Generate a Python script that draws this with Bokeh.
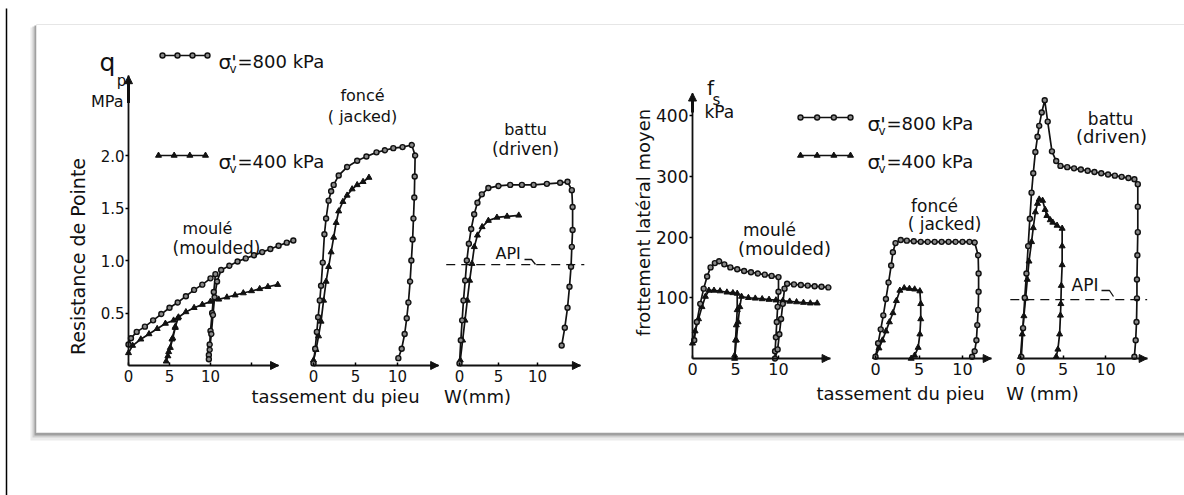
import numpy as np
from bokeh.plotting import figure
from bokeh.models import Range1d, LinearAxis, FixedTicker, Arrow, NormalHead
from bokeh.embed import file_html
from bokeh.resources import INLINE
from bokeh.core.properties import value

# ---------------- DATA ----------------
# Left figure: point resistance q_p (MPa) vs pile settlement w (mm)
qp_moulded_800_w = [0, 0.3, 1, 2, 3, 4, 5, 6, 7, 8, 9, 10, 10.6, 10.4, 10.2, 10.0, 9.9, 9.8, 9.8, 9.9,
                    10.1, 10.3, 10.5, 10.8, 11.3, 12.3, 13.3, 14.3, 15.3, 16.3, 17.3, 18.3, 19.3, 20.1]
qp_moulded_800_q = [0.20, 0.26, 0.32, 0.37, 0.43, 0.49, 0.55, 0.60, 0.66, 0.72, 0.77, 0.83, 0.87, 0.70,
                    0.50, 0.33, 0.20, 0.10, 0.06, 0.15, 0.30, 0.48, 0.65, 0.80, 0.91, 0.95, 0.99, 1.02,
                    1.05, 1.08, 1.11, 1.14, 1.17, 1.19]
qp_moulded_400_w = [0, 0.5, 1.5, 2.5, 3.5, 4.5, 5.5, 6.0, 5.7, 5.4, 5.1, 4.8, 4.6, 4.9, 5.3, 5.7, 6.1,
                    7, 8, 9, 10, 11, 12, 13, 14, 15, 16, 17, 18.2]
qp_moulded_400_q = [0.12, 0.19, 0.25, 0.30, 0.35, 0.40, 0.43, 0.45, 0.36, 0.26, 0.17, 0.09, 0.04, 0.13,
                    0.25, 0.37, 0.46, 0.51, 0.55, 0.58, 0.61, 0.63, 0.65, 0.67, 0.69, 0.71, 0.73, 0.75, 0.77]
qp_jacked_800_w = [0, 0.2, 0.4, 0.55, 0.75, 0.9, 1.1, 1.3, 1.5, 1.8, 2.1, 2.4, 3.0, 4.0, 5.2, 6.3, 7.5,
                   8.5, 9.5, 10.6, 11.7, 12.1, 12.05, 12.0, 11.9, 11.8, 11.65, 11.5, 11.3, 11.1, 10.85,
                   10.5, 10.1]
qp_jacked_800_q = [0.02, 0.16, 0.32, 0.46, 0.62, 0.76, 0.98, 1.25, 1.40, 1.57, 1.66, 1.72, 1.81, 1.89,
                   1.95, 1.99, 2.03, 2.05, 2.07, 2.08, 2.10, 2.00, 1.80, 1.60, 1.40, 1.20, 1.00, 0.80,
                   0.60, 0.45, 0.30, 0.16, 0.07]
qp_jacked_400_w = [0.0, 0.3, 0.6, 0.9, 1.2, 1.5, 1.8, 2.1, 2.4, 2.7, 3.0, 3.5, 4.0, 4.6, 5.2, 5.9, 6.6]
qp_jacked_400_q = [0.05, 0.15, 0.28, 0.42, 0.62, 0.80, 0.94, 1.08, 1.22, 1.36, 1.47, 1.56, 1.62, 1.68,
                   1.72, 1.75, 1.79]
qp_driven_800_w = [0, 0.17, 0.34, 0.51, 0.73, 0.94, 1.2, 1.5, 1.88, 2.3, 2.86, 3.7, 5.0, 6.5, 8.0, 9.5,
                   11.2, 12.9, 13.85, 14.4, 14.5, 14.5, 14.4, 14.3, 14.1, 13.85, 13.5, 13.1]
qp_driven_800_q = [0.02, 0.24, 0.43, 0.62, 0.81, 1.00, 1.16, 1.30, 1.44, 1.55, 1.63, 1.69, 1.71, 1.72,
                   1.72, 1.72, 1.73, 1.74, 1.75, 1.67, 1.51, 1.29, 1.13, 0.94, 0.75, 0.55, 0.36, 0.19]
qp_driven_400_w = [0.1, 0.4, 0.7, 1.0, 1.3, 1.6, 1.9, 2.3, 2.9, 3.7, 4.8, 6.1, 7.6]
qp_driven_400_q = [0.05, 0.24, 0.43, 0.62, 0.81, 0.97, 1.13, 1.24, 1.32, 1.38, 1.41, 1.42, 1.43]
qp_api = 0.96

# Right figure: mean shaft friction f_s (kPa) vs pile settlement w (mm)
fs_moulded_800_w = [0.2, 0.5, 0.9, 1.3, 1.7, 2.1, 2.6, 3.1, 3.7, 4.4, 5.2, 6.0, 6.8, 7.6, 8.4, 9.2, 10.0,
                    10.0, 9.9, 9.8, 9.7, 9.6, 9.6, 9.9, 10.1, 10.3, 10.5, 10.7, 11.0, 11.8, 12.6, 13.4,
                    14.2, 15.0, 15.8]
fs_moulded_800_f = [30, 60, 90, 115, 135, 150, 157, 160, 155, 150, 147, 144, 142, 140, 138, 136, 134,
                    110, 85, 60, 35, 12, 0, 15, 40, 65, 90, 115, 123, 122, 121, 120, 119, 118, 117]
fs_moulded_400_w = [0.0, 0.3, 0.7, 1.1, 1.5, 1.9, 2.5, 3.2, 4.0, 4.7, 5.2, 5.2, 5.1, 5.0, 4.9, 4.9, 5.1,
                    5.3, 5.5, 5.7, 6.5, 7.3, 8.1, 8.9, 9.7, 10.5, 11.3, 12.1, 12.9, 13.7, 14.5]
fs_moulded_400_f = [25, 45, 65, 85, 102, 112, 112, 111, 109, 108, 107, 80, 55, 30, 5, 0, 30, 60, 85, 102,
                    100, 99, 98, 97, 96, 95, 94, 93, 92, 91, 91]
fs_jacked_800_w = [0, 0.3, 0.6, 0.9, 1.2, 1.5, 1.8, 2.0, 2.3, 2.9, 3.6, 4.4, 5.2, 6.0, 6.8, 7.6, 8.4, 9.2,
                   10.0, 10.8, 11.4, 11.8, 11.85, 11.85, 11.8, 11.7, 11.6, 11.4, 11.1]
fs_jacked_800_f = [3, 25, 48, 71, 98, 125, 153, 175, 190, 195, 194, 193, 192, 192, 192, 192, 192, 192,
                   192, 192, 191, 170, 140, 110, 80, 55, 30, 12, 3]
fs_jacked_400_w = [0.0, 0.4, 0.8, 1.2, 1.6, 2.0, 2.4, 2.8, 3.3, 3.9, 4.5, 5.1, 5.2, 5.2, 5.1, 4.9, 4.5, 4.1]
fs_jacked_400_f = [3, 17, 30, 45, 60, 75, 95, 112, 116, 115, 114, 111, 90, 65, 40, 18, 5, 0]
fs_driven_800_w = [0.1, 0.3, 0.5, 0.7, 0.9, 1.1, 1.3, 1.5, 1.75, 2.0, 2.2, 2.5, 2.85, 3.2, 3.7, 4.2, 4.7,
                   5.5, 6.3, 7.1, 7.9, 8.7, 9.5, 10.3, 11.1, 11.9, 12.7, 13.4, 13.8, 13.8, 13.8, 13.75,
                   13.7, 13.7, 13.65, 13.55, 13.4]
fs_driven_800_f = [3, 50, 100, 140, 185, 230, 273, 305, 340, 365, 383, 405, 425, 390, 341, 325, 317,
                   315, 313, 311, 309, 307, 305, 303, 301, 299, 297, 295, 287, 250, 208, 170, 130, 99,
                   60, 30, 3]
fs_driven_400_w = [0.0, 0.2, 0.4, 0.6, 0.8, 1.0, 1.3, 1.5, 1.75, 2.0, 2.2, 2.6, 2.9, 3.1, 3.5, 3.8, 4.3,
                   4.9, 4.9, 4.9, 4.8, 4.75, 4.7, 4.6, 4.4, 4.2]
fs_driven_400_f = [3, 40, 70, 99, 130, 160, 192, 215, 241, 255, 262, 260, 245, 235, 228, 224, 219, 214,
                   185, 154, 120, 90, 71, 40, 15, 3]
fs_api = 97

qp_ticks = [0.5, 1.0, 1.5, 2.0]
fs_ticks = [100, 200, 300, 400]

# ---------------- LAYOUT ----------------
W, H = 1184, 495
FONT = "DejaVu Sans"
INK = "#111111"

p = figure(width=W, height=H, x_range=Range1d(0, W), y_range=Range1d(H, 0),
           output_backend="svg", toolbar_location=None,
           x_axis_location=None, y_axis_location=None, min_border=0,
           outline_line_color=None, background_fill_color="white",
           border_fill_color="white")
p.grid.visible = False

# panel x origins (px) and px per mm; y origin and px per unit
panels = {
    "qm": (128, 8.2), "qj": (313, 8.4), "qd": (459, 7.8),
    "fm": (692, 8.6), "fj": (875, 8.7), "fd": (1020, 8.5),
}
for name, (x0, s) in panels.items():
    p.extra_x_ranges[name] = Range1d(-x0 / s, (W - x0) / s)
qp_y0, qp_s = 365, 105.0
fs_y0, fs_s = 358, 0.6075
p.extra_y_ranges["qp"] = Range1d((qp_y0 - H) / qp_s, qp_y0 / qp_s)
p.extra_y_ranges["fs"] = Range1d((fs_y0 - H) / fs_s, fs_y0 / fs_s)

# ---- page decorations: left rule, card with shadow ----
p.line([6, 6], [8, H], line_color="black", line_width=1.5)
p.quad(left=[30], right=[1200], top=[27], bottom=[440], fill_color="#ececec", line_color=None)
p.quad(left=[32], right=[1200], top=[26], bottom=[437], fill_color="#cfcfcf", line_color=None)
p.quad(left=[34], right=[1200], top=[25], bottom=[435], fill_color="#a0a0a0", line_color=None)
p.quad(left=[36], right=[1200], top=[24], bottom=[432], fill_color="white", line_color="#e6e6e6",
       line_width=1)

# ---- axes ----
def x_axis(xr, yr, end, ticks, fsize):
    ax = LinearAxis(x_range_name=xr, y_range_name=yr, fixed_location=0, bounds=(0, end),
                    ticker=FixedTicker(ticks=ticks),
                    major_label_overrides={15: ""},
                    axis_line_width=1.8, axis_line_color=INK,
                    major_tick_in=3, major_tick_out=0, major_tick_line_width=1.5,
                    minor_tick_line_color=None, major_label_standoff=4,
                    major_label_text_font=FONT, major_label_text_font_size=fsize,
                    major_label_text_color=INK)
    p.add_layout(ax, "below")
    p.add_layout(Arrow(end=NormalHead(size=8, fill_color=INK, line_color=INK),
                       x_start=end - 1.0, y_start=0, x_end=end, y_end=0,
                       x_range_name=xr, y_range_name=yr, line_width=1.8, line_color=INK))

x_axis("qm", "qp", 18.3, [0, 5, 10, 15], "15px")
x_axis("qj", "qp", 14.9, [0, 5, 10], "15px")
x_axis("qd", "qp", 15.5, [0, 5, 10], "15px")
x_axis("fm", "fs", 16.0, [0, 5, 10], "16px")
x_axis("fj", "fs", 13.3, [0, 5, 10], "16px")
x_axis("fd", "fs", 14.9, [0, 5, 10], "16px")

def y_axis(xr, yr, top, ticks, labels, fsize, arrow_from):
    ax = LinearAxis(x_range_name=xr, y_range_name=yr, fixed_location=0, bounds=(0, top),
                    ticker=FixedTicker(ticks=ticks),
                    major_label_overrides=labels,
                    axis_line_width=1.8, axis_line_color=INK,
                    major_tick_in=0, major_tick_out=3, major_tick_line_width=1.5,
                    minor_tick_line_color=None, major_label_standoff=1,
                    major_label_text_font=FONT, major_label_text_font_size=fsize,
                    major_label_text_color=INK)
    p.add_layout(ax, "left")
    p.add_layout(Arrow(end=NormalHead(size=8, fill_color=INK, line_color=INK),
                       x_start=0, y_start=arrow_from, x_end=0, y_end=top,
                       x_range_name=xr, y_range_name=yr, line_width=3, line_color=INK))

y_axis("qm", "qp", 2.76, qp_ticks, {t: f"{t:.1f}" for t in qp_ticks}, "15px", 2.5)
y_axis("fm", "fs", 437, fs_ticks, {t: str(t) for t in fs_ticks}, "17px", 405)

# ---- curves ----
def markers(xs, ys, marker, **kw):
    if marker == "circle":
        p.scatter(xs, ys, marker="circle", size=5, fill_color="#8a8a8a", line_color=INK,
                  line_width=1.4, **kw)
    else:
        p.scatter(xs, ys, marker="triangle", size=6, fill_color=INK, line_color=INK,
                  line_width=1, **kw)

def curve(xs, ys, xr, yr, marker):
    p.line(xs, ys, x_range_name=xr, y_range_name=yr, line_color=INK, line_width=1.7)
    markers(xs, ys, marker, x_range_name=xr, y_range_name=yr)

curve(qp_moulded_400_w, qp_moulded_400_q, "qm", "qp", "triangle")
curve(qp_moulded_800_w, qp_moulded_800_q, "qm", "qp", "circle")
curve(qp_jacked_400_w, qp_jacked_400_q, "qj", "qp", "triangle")
curve(qp_jacked_800_w, qp_jacked_800_q, "qj", "qp", "circle")
curve(qp_driven_400_w, qp_driven_400_q, "qd", "qp", "triangle")
curve(qp_driven_800_w, qp_driven_800_q, "qd", "qp", "circle")
curve(fs_moulded_400_w, fs_moulded_400_f, "fm", "fs", "triangle")
curve(fs_moulded_800_w, fs_moulded_800_f, "fm", "fs", "circle")
curve(fs_jacked_400_w, fs_jacked_400_f, "fj", "fs", "triangle")
curve(fs_jacked_800_w, fs_jacked_800_f, "fj", "fs", "circle")
curve(fs_driven_400_w, fs_driven_400_f, "fd", "fs", "triangle")
curve(fs_driven_800_w, fs_driven_800_f, "fd", "fs", "circle")

# API reference lines
p.line([-1.7, 16.0], [qp_api, qp_api], x_range_name="qd", y_range_name="qp",
       line_color=INK, line_width=1.3, line_dash="9 6")
p.line([-1.2, 14.9], [fs_api, fs_api], x_range_name="fd", y_range_name="fs",
       line_color=INK, line_width=1.3, line_dash="9 6")

# ---- legends (pixel positions) ----
def txt(x, y, t, size, align="left", angle=0.0, baseline="middle"):
    p.text([x], [y], text=[t], text_font=value(FONT), text_font_size=value(size),
           text_color=INK, text_align=align, text_baseline=baseline, angle=angle)

def legend_entry(x0, x1, y, marker, tx, label, size):
    xs = list(np.linspace(x0, x1, 4))
    p.line([x0, x1], [y, y], line_color=INK, line_width=1.7)
    markers(xs, [y] * 4, marker)
    txt(tx, y + 6, "σ'", "20px", baseline="alphabetic")
    txt(tx + 11, y + 13, "v", "12px", baseline="alphabetic")
    txt(tx + 19, y + 6, label, size, baseline="alphabetic")

legend_entry(162, 207, 55, "circle", 218, "=800 kPa", "18px")
legend_entry(158, 205, 155, "triangle", 218, "=400 kPa", "18px")
legend_entry(800, 850, 117, "circle", 867, "=800 kPa", "18px")
legend_entry(800, 850, 155, "triangle", 867, "=400 kPa", "18px")

# left figure texts
txt(107, 62, "q", "25px", "center", baseline="alphabetic")
txt(121, 80, "p", "15px", "center", baseline="alphabetic")
txt(123, 101, "MPa", "16px", "right")
txt(77, 256, "Resistance de Pointe", "19px", "center", angle=np.pi / 2)
txt(207, 228, "moulé", "16px", "center")
txt(216, 247, "(moulded)", "17px", "center")
txt(362, 95, "foncé", "16px", "center")
txt(362, 116, "( jacked)", "16px", "center")
txt(525, 129, "battu", "16px", "center")
txt(525, 148, "(driven)", "17px", "center")
txt(495, 253, "API", "16px", "left")
p.line([524, 531, 535], [259, 259, 264], line_color=INK, line_width=1.3)
txt(335, 396, "tassement du pieu", "18px", "center")
txt(477, 396, "W(mm)", "18px", "center")

# right figure texts
txt(710, 87, "f", "20px", "center", baseline="alphabetic")
txt(716, 99, "s", "15px", "center", baseline="alphabetic")
txt(704, 111, "kPa", "17px", "left")
txt(643, 222, "frottement latéral moyen", "18px", "center", angle=np.pi / 2)
txt(769, 229, "moulé", "17px", "center")
txt(784, 248, "(moulded)", "18px", "center")
txt(934, 205, "foncé", "17px", "center")
txt(944, 223, "( jacked)", "17px", "center")
txt(1110, 118, "battu", "17px", "center")
txt(1111, 136, "(driven)", "18px", "center")
txt(1071, 284, "API", "17px", "left")
p.line([1101, 1109, 1113], [290, 290, 296], line_color=INK, line_width=1.3)
txt(900, 393, "tassement du pieu", "18px", "center")
txt(1042, 393, "W (mm)", "18px", "center")

open("out.html", "w").write(file_html(p, INLINE))
